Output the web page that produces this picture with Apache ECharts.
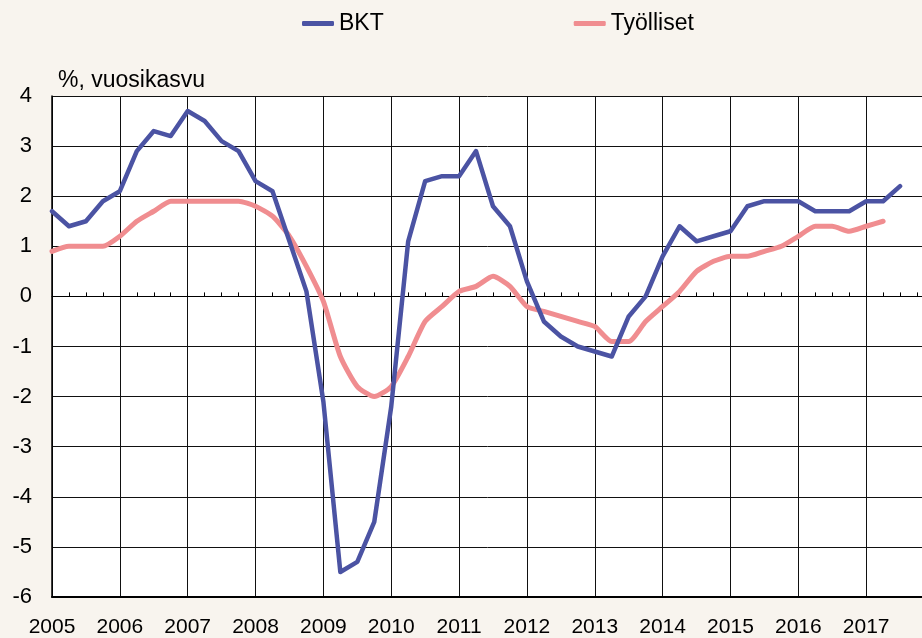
<!DOCTYPE html>
<html>
<head>
<meta charset="utf-8">
<script src="https://cdn.jsdelivr.net/npm/echarts@6/dist/echarts.min.js"></script>
<style>
html, body { margin: 0; padding: 0; background: #f8f4ee; }
#chart { width: 922px; height: 638px; }
</style>
</head>
<body>
<div id="chart"></div>
<script>
// vuodet, neljännekset 2005Q1 .. 2018Q1
var years = [2005, 2006, 2007, 2008, 2009, 2010, 2011, 2012, 2013, 2014, 2015, 2016, 2017, 2018];
var quarters = [];
for (var i = 0; i < years.length; i++) {
    for (var q = 1; q <= 4; q++) {
        quarters.push(years[i] + 'Q' + q);
        if (i == years.length - 1) break;
    }
}

// BKT, vuosikasvu %
var bkt = [
    1.7, 1.4, 1.5, 1.9, 2.1, 2.9, 3.3, 3.2,
    3.7, 3.5, 3.1, 2.9, 2.3, 2.1, 1.1, 0.1,
    -2.1, -5.5, -5.3, -4.5, -2.2, 1.1, 2.3, 2.4,
    2.4, 2.9, 1.8, 1.4, 0.3, -0.5, -0.8, -1.0,
    -1.1, -1.2, -0.4, 0.0, 0.8, 1.4, 1.1, 1.2,
    1.3, 1.8, 1.9, 1.9, 1.9, 1.7, 1.7, 1.7,
    1.9, 1.9, 2.2
];

// Työlliset, vuosikasvu %
var tyolliset = [
    0.9, 1.0, 1.0, 1.0, 1.2, 1.5, 1.7, 1.9,
    1.9, 1.9, 1.9, 1.9, 1.8, 1.6, 1.2, 0.6,
    -0.1, -1.2, -1.8, -2.0, -1.8, -1.2, -0.5, -0.2,
    0.1, 0.2, 0.4, 0.2, -0.2, -0.3, -0.4, -0.5,
    -0.6, -0.9, -0.9, -0.5, -0.2, 0.1, 0.5, 0.7,
    0.8, 0.8, 0.9, 1.0, 1.2, 1.4, 1.4, 1.3,
    1.4, 1.5
];

var yTicks = [-6, 4, 1];

var font = 'Liberation Sans, Arial, sans-serif';
var myChart = echarts.init(document.getElementById('chart'));

var option = {
    backgroundColor: '#f8f4ee',
    animation: false,
    textStyle: {fontFamily: font, color: '#000'},
    title: {
        text: '%, vuosikasvu',
        left: 53,
        top: 64,
        textStyle: {fontFamily: font, fontSize: 23, fontWeight: 'normal', color: '#000'}
    },
    legend: {
        left: 297,
        top: 7,
        icon: 'roundRect',
        itemWidth: 32,
        itemHeight: 5,
        itemGap: 190,
        textStyle: {fontFamily: font, fontSize: 23, color: '#000'},
        data: ['BKT', 'Työlliset']
    },
    grid: {
        left: 52,
        right: -12,
        top: 96,
        bottom: 41,
        outerBoundsMode: 'none',
        containLabel: false,
        show: true,
        backgroundColor: '#fff',
        borderWidth: 0
    },
    xAxis: [{
        type: 'category',
        data: quarters,
        boundaryGap: false,
        position: 'bottom',
        axisLine: {onZero: false, lineStyle: {color: '#000', width: 2}},
        axisTick: {show: false},
        axisLabel: {
            interval: function (idx) { return idx % 4 === 0; },
            formatter: function (v) { return v.slice(0, 4) === '2018' ? '' : v.slice(0, 4); },
            margin: 20,
            fontSize: 21,
            color: '#000',
            fontFamily: font
        },
        splitLine: {
            show: true,
            interval: function (idx) { return idx % 4 === 0; },
            lineStyle: {color: '#111', width: 1}
        }
    }, {
        type: 'category',
        data: quarters,
        boundaryGap: false,
        position: 'top',
        axisLine: {onZero: true, lineStyle: {color: '#000', width: 1}},
        axisTick: {show: true, interval: 0, inside: false, length: 4, lineStyle: {color: '#000'}},
        axisLabel: {show: false},
        splitLine: {show: false}
    }],
    yAxis: {
        type: 'value',
        min: yTicks[0],
        max: yTicks[1],
        interval: yTicks[2],
        axisLine: {show: true, lineStyle: {color: '#000', width: 1.5}},
        axisTick: {show: false},
        axisLabel: {margin: 20, fontSize: 22, color: '#000', fontFamily: font},
        splitLine: {show: true, lineStyle: {color: '#111', width: 1}}
    },
    series: [{
        name: 'BKT',
        type: 'line',
        data: bkt,
        showSymbol: false,
        symbol: 'none',
        itemStyle: {color: '#4b53a3'},
        lineStyle: {color: '#4b53a3', width: 4.5, cap: 'round', join: 'round'},
        z: 3
    }, {
        name: 'Työlliset',
        type: 'line',
        data: tyolliset,
        showSymbol: false,
        symbol: 'none',
        smooth: 0.2,
        itemStyle: {color: '#f08d90'},
        lineStyle: {color: '#f08d90', width: 5, cap: 'round', join: 'round'},
        z: 2
    }]
};

myChart.setOption(option);
</script>
</body>
</html>
